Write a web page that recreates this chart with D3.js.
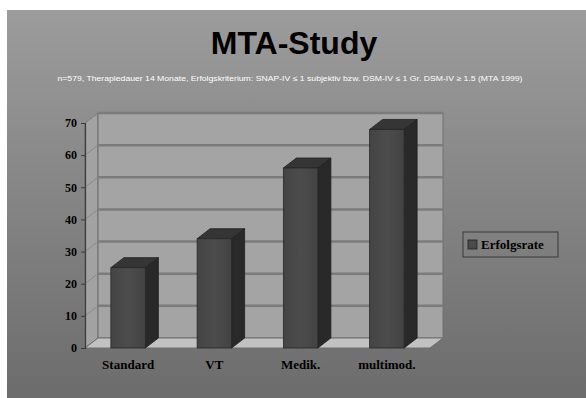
<!DOCTYPE html>
<html>
<head>
<meta charset="utf-8">
<script src="https://cdn.jsdelivr.net/npm/d3@7"></script>
<style>
  html, body { margin: 0; padding: 0; background: #ffffff; }
  svg { display: block; }
</style>
</head>
<body>
<svg id="chart" width="586" height="398"></svg>
<script>
// Normalisierungsraten nach Behandlungsgruppe (in %)
const categories = ["Standard", "VT", "Medik.", "multimod."];
const erfolgsrate = [25, 34, 56, 68];
const yTicks = [0, 10, 20, 30, 40, 50, 60, 70];
const seriesName = "Erfolgsrate";
const titleText = "MTA-Study";
const subtitleText = "n=579, Therapiedauer 14 Monate, Erfolgskriterium: SNAP-IV \u2264 1 subjektiv bzw. DSM-IV \u2264 1 Gr. DSM-IV \u2265 1.5 (MTA 1999)";

const svg = d3.select("#chart");
const W = 586, H = 398;

// Layout of the 3-D plot box (front plane + depth offset)
const front = { left: 85, right: 430, top: 123, bottom: 348 };
const depth = { dx: 13, dy: -10 };

const defs = svg.append("defs");
const bg = defs.append("linearGradient").attr("id", "bgGrad")
  .attr("x1", 0).attr("y1", 0).attr("x2", 0).attr("y2", 1);
bg.append("stop").attr("offset", "0%").attr("stop-color", "#9c9c9c");
bg.append("stop").attr("offset", "100%").attr("stop-color", "#6c6c6c");

const barGrad = defs.append("linearGradient").attr("id", "barGrad")
  .attr("x1", 0).attr("y1", 0).attr("x2", 1).attr("y2", 0);
barGrad.append("stop").attr("offset", "0%").attr("stop-color", "#444444");
barGrad.append("stop").attr("offset", "50%").attr("stop-color", "#4c4c4c");
barGrad.append("stop").attr("offset", "100%").attr("stop-color", "#434343");

// Chart background (white margin on top and left)
svg.append("rect").attr("x", 7).attr("y", 10).attr("width", W - 7).attr("height", H - 10)
  .attr("fill", "url(#bgGrad)");

// Title and subtitle
svg.append("text")
  .attr("x", 294).attr("y", 54)
  .attr("text-anchor", "middle")
  .attr("font-family", "'Liberation Sans', Arial, sans-serif")
  .attr("font-weight", "bold")
  .attr("font-size", 32)
  .attr("fill", "#000")
  .text(titleText);

svg.append("text")
  .attr("x", 290).attr("y", 81)
  .attr("text-anchor", "middle")
  .attr("font-family", "'Liberation Sans', Arial, sans-serif")
  .attr("font-size", 7.5)
  .attr("fill", "#ffffff")
  .attr("textLength", 465)
  .attr("lengthAdjust", "spacingAndGlyphs")
  .text(subtitleText);

// Scales
const x = d3.scaleBand().domain(categories).range([front.left, front.right]).paddingInner(0.6).paddingOuter(0.3);
const y = d3.scaleLinear().domain([0, 70]).range([front.bottom, front.top]);

const plot = svg.append("g");

// Side wall (left)
plot.append("path")
  .attr("d", d3.line()([
    [front.left, front.bottom], [front.left, front.top],
    [front.left + depth.dx, front.top + depth.dy], [front.left + depth.dx, front.bottom + depth.dy]
  ]) + "Z")
  .attr("fill", "#a2a2a2").attr("stroke", "#6e6e6e").attr("stroke-width", 1);

// Back wall
plot.append("rect")
  .attr("x", front.left + depth.dx).attr("y", front.top + depth.dy)
  .attr("width", front.right - front.left).attr("height", front.bottom - front.top)
  .attr("fill", "#a4a4a4").attr("stroke", "#707070").attr("stroke-width", 1);

// Floor
plot.append("path")
  .attr("d", d3.line()([
    [front.left, front.bottom], [front.right, front.bottom],
    [front.right + depth.dx, front.bottom + depth.dy], [front.left + depth.dx, front.bottom + depth.dy]
  ]) + "Z")
  .attr("fill", "#c2c2c2").attr("stroke", "#6e6e6e").attr("stroke-width", 1);

// Gridlines on the back wall and the side wall
plot.selectAll("line.grid").data(yTicks.filter(d => d > 0)).join("line")
  .attr("class", "grid")
  .attr("x1", front.left + depth.dx).attr("x2", front.right + depth.dx)
  .attr("y1", d => y(d) + depth.dy).attr("y2", d => y(d) + depth.dy)
  .attr("stroke", "#7c7c7c").attr("stroke-width", 2.5);
plot.selectAll("line.sgrid").data(yTicks.filter(d => d > 0)).join("line")
  .attr("class", "sgrid")
  .attr("x1", front.left).attr("x2", front.left + depth.dx)
  .attr("y1", d => y(d)).attr("y2", d => y(d) + depth.dy)
  .attr("stroke", "#8a8a8a").attr("stroke-width", 1);

// 3-D bars
const bars = plot.selectAll("g.bar").data(categories.map((c, i) => ({ c, v: erfolgsrate[i] }))).join("g")
  .attr("class", "bar");

bars.append("path") // side face
  .attr("d", d => {
    const x1 = x(d.c) + x.bandwidth(), yt = y(d.v), yb = y(0);
    return d3.line()([[x1, yb], [x1, yt], [x1 + depth.dx, yt + depth.dy], [x1 + depth.dx, yb + depth.dy]]) + "Z";
  })
  .attr("fill", "#292929").attr("stroke", "#1e1e1e").attr("stroke-width", 0.8);

bars.append("path") // top face
  .attr("d", d => {
    const x0 = x(d.c), x1 = x0 + x.bandwidth(), yt = y(d.v);
    return d3.line()([[x0, yt], [x1, yt], [x1 + depth.dx, yt + depth.dy], [x0 + depth.dx, yt + depth.dy]]) + "Z";
  })
  .attr("fill", "#353535").attr("stroke", "#1e1e1e").attr("stroke-width", 0.8);

bars.append("rect") // front face
  .attr("x", d => x(d.c)).attr("y", d => y(d.v))
  .attr("width", x.bandwidth()).attr("height", d => y(0) - y(d.v))
  .attr("fill", "url(#barGrad)").attr("stroke", "#262626").attr("stroke-width", 0.8);

// Y axis
const yAxis = svg.append("g")
  .attr("transform", `translate(${front.left},0)`)
  .call(d3.axisLeft(y).tickValues(yTicks).tickSize(4).tickPadding(4).tickFormat(d3.format("d")));
yAxis.select(".domain").attr("stroke", "#3a3a3a").attr("stroke-width", 1.2);
yAxis.selectAll(".tick line").attr("stroke", "#3a3a3a");
yAxis.selectAll(".tick text")
  .attr("font-family", "'Liberation Serif', 'Times New Roman', serif")
  .attr("font-weight", "bold").attr("font-size", 12).attr("fill", "#000");

// X axis labels
const xAxis = svg.append("g")
  .attr("transform", `translate(0,${front.bottom})`)
  .call(d3.axisBottom(x).tickSize(0).tickPadding(12));
xAxis.select(".domain").remove();
xAxis.selectAll(".tick text")
  .attr("font-family", "'Liberation Serif', 'Times New Roman', serif")
  .attr("font-weight", "bold").attr("font-size", 13).attr("fill", "#000");

// Legend
const legend = svg.append("g").attr("transform", "translate(463,232)");
legend.append("rect").attr("width", 95).attr("height", 25)
  .attr("fill", "none").attr("stroke", "#3a3a3a").attr("stroke-width", 1);
legend.append("rect").attr("x", 5).attr("y", 8).attr("width", 9).attr("height", 9)
  .attr("fill", "#4a4a4a").attr("stroke", "#222").attr("stroke-width", 0.8);
legend.append("text").attr("x", 18).attr("y", 17)
  .attr("font-family", "'Liberation Serif', 'Times New Roman', serif")
  .attr("font-weight", "bold").attr("font-size", 13).attr("fill", "#000")
  .text(seriesName);
</script>
</body>
</html>
